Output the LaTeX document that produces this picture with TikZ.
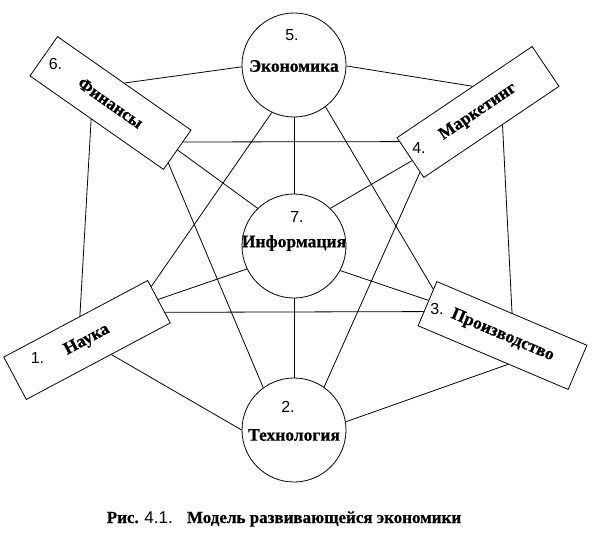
\documentclass[tikz,border=0pt]{standalone}
\usepackage{fontspec}
\setmainfont{Liberation Serif}[BoldFeatures={FakeBold=0.6}]
\newfontfamily\numf{Liberation Sans}
\usetikzlibrary{calc}
\begin{document}
\begin{tikzpicture}[x=1pt,y=-1pt, line width=0.8pt,
 circ/.style={draw, circle, minimum size=104pt, inner sep=0pt},
 rbox/.style={draw, rectangle, minimum width=163pt, minimum height=48pt, inner sep=0pt, font=\bfseries\fontsize{17.5}{17.5}\selectfont},
 word/.style={font=\bfseries\fontsize{17.5}{17.5}\selectfont, inner sep=0pt},
 num/.style={font=\numf\fontsize{16}{16}\selectfont, inner sep=0pt},
 conn/.style={draw, line width=0.8pt}]
\useasboundingbox (0,0) rectangle (592,541);
% circles
\node[circ] (n5) at (294,65) {};
\node[circ] (n7) at (294,246) {};
\node[circ] (n2) at (294,430) {};
\node[word] (w5) at (294,66) {Экономика};
\node[num] (l5) at (292,35) {5.};
\node[word] (w7) at (294,243) {Информация};
\node[num] (l7) at (297,217) {7.};
\node[word] (w2) at (294,435) {Технология};
\node[num] (l2) at (288,407) {2.};
% rectangles
\node[rbox, rotate=-35] (n6) at (110.5,103) {Финансы};
\node[rbox, rotate=34] (n4) at (478,112) {Маркетинг};
\node[rbox, rotate=28] (n1) at (87,340) {Наука};
\node[rbox, rotate=-23] (n3) at (502.5,335.5) {Производство};
\node[num] (l6) at (55.5,64) {6.};
\node[num] (l4) at (419,147.5) {4.};
\node[num] (l1) at (37.5,358) {1.};
\node[num] (l3) at (437,309) {3.};
% connectors
\draw[conn] (n5.182) -- (n6.north);
\draw[conn] (n5.359) -- ($(n4.north west)!0.56!(n4.north east)$);
\draw[conn] (n5.270) -- (n7.90);
\draw[conn] (n5.245) -- ($(n1.north east)!0.15!(n1.south east)$);
\draw[conn] (n5.307) -- ($(n3.north west)!0.18!(n3.south west)$);
\draw[conn] ($(n6.north east)!0.3!(n6.south east)$) -- ($(n4.north west)!0.1!(n4.south west)$);
\draw[conn] (n6.east) -- (n7.134);
\draw[conn] ($(n6.north east)!0.83!(n6.south east)$) -- (n2.126);
\draw[conn] ($(n6.south west)!0.46!(n6.south east)$) -- ($(n1.north west)!0.53!(n1.north east)$);
\draw[conn] ($(n4.north west)!0.57!(n4.south west)$) -- (n7.46);
\draw[conn] ($(n4.north west)!0.86!(n4.south west)$) -- (n2.55);
\draw[conn] ($(n4.south west)!0.58!(n4.south east)$) -- (n3.north);
\draw[conn] (n7.206) -- ($(n1.north east)!0.45!(n1.south east)$);
\draw[conn] (n7.332) -- ($(n3.north west)!0.43!(n3.south west)$);
\draw[conn] (n7.270) -- (n2.90);
\draw[conn] ($(n1.north east)!0.75!(n1.south east)$) -- ($(n3.north west)!0.68!(n3.south west)$);
\draw[conn] ($(n1.south west)!0.59!(n1.south east)$) -- (n2.180);
\draw[conn] ($(n3.south west)!0.6!(n3.south east)$) -- (n2.9);
% caption
\node[font=\bfseries\fontsize{17}{17}\selectfont, anchor=base, inner sep=0pt] (cap) at (284,523) {Рис. {\numf\mdseries 4.1.}\hspace{0.5em} Модель развивающейся экономики};
\end{tikzpicture}
\end{document}
